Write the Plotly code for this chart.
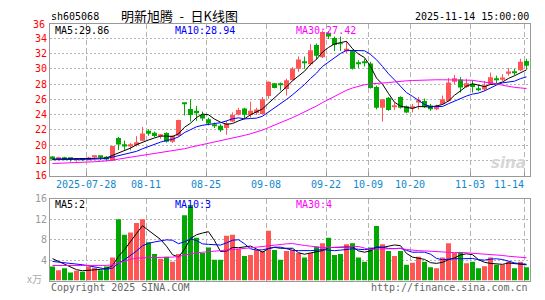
import plotly.graph_objects as go
import pandas as pd

# ---------------- data ----------------
dates = ("07-18 07-21 07-22 07-23 07-24 07-25 07-28 07-29 07-30 07-31 "
         "08-01 08-04 08-05 08-06 08-07 08-08 08-11 08-12 08-13 08-14 08-15 "
         "08-18 08-19 08-20 08-21 08-22 08-25 08-26 08-27 08-28 08-29 "
         "09-01 09-02 09-03 09-04 09-05 09-08 09-09 09-10 09-11 09-12 "
         "09-15 09-16 09-17 09-18 09-19 09-22 09-23 09-24 09-25 09-26 09-29 09-30 "
         "10-09 10-10 10-13 10-14 10-15 10-16 10-17 10-20 10-21 10-22 10-23 10-24 "
         "10-27 10-28 10-29 10-30 10-31 11-03 11-04 11-05 11-06 11-07 "
         "11-10 11-11 11-12 11-13 11-14").split()

open_ = [18.55, 18.20, 18.40, 18.22, 18.15, 18.20, 18.15, 18.45, 18.50, 18.50,
         18.00, 20.95, 20.15, 19.85, 20.00, 20.60, 21.90, 21.65, 21.20, 21.60,
         20.45, 21.25, 25.55, 24.75, 24.50, 23.95, 23.40, 22.68, 22.55, 22.26,
         23.10, 24.00, 24.80, 23.95, 24.22, 24.10, 26.45, 28.10, 27.90, 27.35,
         28.50, 30.00, 30.90, 30.60, 33.10, 31.50, 34.70, 34.00, 33.30, 32.30,
         32.40, 30.80, 30.90, 30.70, 27.60, 24.90, 26.20, 25.05, 26.30, 25.10,
         24.95, 25.60, 25.80, 25.20, 24.70, 25.40, 25.80, 28.30, 28.60, 27.60,
         28.00, 27.40, 27.30, 27.95, 28.60, 28.55, 29.35, 29.60, 29.80, 31.00]
high = [18.60, 18.50, 18.50, 18.30, 18.30, 18.30, 18.50, 18.65, 18.55, 18.60,
        19.95, 21.10, 20.60, 20.30, 21.20, 22.40, 22.10, 21.80, 21.45, 21.70,
        21.30, 23.35, 25.55, 26.00, 25.15, 24.40, 23.60, 22.97, 22.75, 23.18,
        24.30, 24.90, 24.90, 25.70, 24.90, 26.30, 28.35, 28.15, 28.20, 28.70,
        30.20, 31.60, 31.60, 33.20, 33.30, 35.00, 34.90, 34.20, 34.20, 33.60,
        32.50, 31.10, 31.30, 30.90, 27.80, 26.05, 26.30, 25.60, 26.40, 25.20,
        25.40, 26.30, 26.10, 25.40, 25.30, 26.50, 28.80, 29.20, 28.90, 28.70,
        28.50, 27.90, 28.40, 29.50, 29.10, 29.30, 30.10, 30.00, 31.30, 31.30]
low = [18.10, 18.10, 18.05, 17.85, 17.85, 17.95, 18.05, 18.15, 18.05, 17.90,
       17.95, 19.40, 19.40, 19.35, 19.85, 20.55, 21.25, 21.05, 20.85, 20.35,
       20.30, 21.10, 23.90, 23.10, 23.20, 23.20, 22.60, 22.26, 21.75, 21.38,
       23.00, 23.90, 23.50, 23.60, 23.95, 24.00, 26.10, 27.45, 27.15, 26.50,
       28.40, 29.60, 30.00, 30.40, 31.20, 31.40, 33.90, 32.30, 32.30, 32.00,
       29.90, 30.10, 30.30, 27.40, 24.70, 23.10, 24.50, 24.60, 24.80, 24.20,
       24.30, 24.70, 24.90, 24.50, 24.60, 25.30, 25.70, 28.00, 26.90, 27.50,
       26.90, 27.05, 27.10, 27.90, 28.10, 28.40, 29.10, 29.15, 29.70, 29.90]
close = [18.15, 18.35, 18.25, 18.18, 18.20, 18.15, 18.40, 18.52, 18.45, 18.15,
         19.90, 20.10, 19.85, 20.15, 20.40, 21.55, 21.50, 21.20, 21.33, 20.45,
         21.25, 23.30, 25.45, 23.95, 24.20, 23.50, 22.85, 22.60, 21.95, 22.84,
         23.95, 24.60, 24.00, 24.50, 24.68, 26.00, 28.30, 27.50, 27.85, 28.50,
         30.00, 31.20, 30.80, 32.40, 31.70, 34.80, 34.20, 33.10, 33.20, 32.60,
         30.00, 30.70, 30.80, 27.50, 24.90, 26.00, 24.60, 25.15, 24.90, 24.30,
         25.10, 25.90, 25.00, 24.70, 25.05, 26.00, 28.20, 28.75, 27.55, 28.10,
         27.60, 27.30, 27.80, 28.90, 28.50, 28.85, 29.65, 29.50, 30.90, 30.40]
volume = [2.77, 2.00, 2.40, 1.60, 1.90, 1.75, 2.77, 2.50, 2.00, 2.77,
          4.50, 12.0, 9.00, 9.40, 11.3, 12.0, 7.50, 5.20, 4.30, 4.65,
          3.70, 5.20, 12.8, 14.8, 8.40, 5.40, 6.50, 4.10, 4.10, 8.80,
          9.00, 6.20, 4.80, 5.00, 6.00, 5.80, 9.75, 6.00, 4.10, 5.80,
          6.00, 5.40, 4.50, 5.40, 6.70, 7.30, 8.40, 5.00, 5.20, 7.10,
          7.30, 4.50, 3.70, 6.50, 10.7, 7.10, 5.80, 4.80, 5.80, 3.10,
          3.50, 4.65, 3.70, 2.60, 2.40, 4.50, 7.30, 5.40, 5.60, 3.40,
          3.70, 2.40, 2.80, 4.50, 3.10, 3.10, 3.70, 2.40, 3.70, 2.60]

# moving-average values at the start of the chart (window reaches before the first day)
ma5_lead = [18.20, 18.20, 18.21, 18.22]
ma10_lead = [18.12, 18.12, 18.13, 18.13, 18.14, 18.15, 18.17, 18.20, 18.24]
ma30_lead = [17.62, 17.64, 17.66, 17.68, 17.72, 17.76, 17.80, 17.85, 17.90, 17.95,
             18.05, 18.20, 18.32, 18.44, 18.56, 18.68, 18.80, 18.92, 19.03, 19.13,
             19.24, 19.36, 19.55, 19.75, 19.92, 20.08, 20.23, 20.38, 20.54]
vma5_lead = [4.30, 3.75, 3.20, 2.65]
vma10_lead = [3.75, 3.65, 3.50, 3.35, 3.25, 3.10, 2.90, 2.70, 2.50]
vma30_lead = [2.95, 2.95, 2.95, 2.95, 2.95, 2.95, 2.95, 2.95, 2.95, 2.97,
              3.10, 3.50, 3.85, 4.15, 4.40, 4.50, 4.50, 4.50, 4.50, 4.55,
              4.60, 4.75, 5.00, 5.25, 5.45, 5.55, 5.65, 5.72, 5.78]

tick_labels = ["2025-07-28", "08-11", "08-25", "09-08", "09-22", "10-09", "10-20", "11-03", "11-14"]
tick_dates = ["07-28", "08-11", "08-25", "09-08", "09-22", "10-09", "10-20", "11-03", "11-14"]
price_ticks = [16, 18, 20, 22, 24, 26, 28, 30, 32, 34]
vol_ticks = [4, 8, 12, 16]

header_left = "sh605068"
title = "明新旭腾\u2002-\u2002日K线图"
stamp = "2025-11-14 15:00:00"
vol_legend = ["MA5:2", "MA10:3", "MA30:4"]

# ---------------- derived ----------------
n = len(dates)
idx = list(range(n))


def ma(vals, w, lead):
    r = pd.Series(vals).rolling(w).mean().tolist()
    return list(lead) + r[w - 1:]


ma5 = ma(close, 5, ma5_lead)
ma10 = ma(close, 10, ma10_lead)
ma30 = ma(close, 30, ma30_lead)
vma5 = ma(volume, 5, vma5_lead)
vma10 = ma(volume, 10, vma10_lead)
vma30 = ma(volume, 30, vma30_lead)

RED = "#ff5555"
GREEN = "#00a800"
up = [c >= o for o, c in zip(open_, close)]
cols = [RED if u else GREEN for u in up]

W, H = 545, 300
def px(x): return x / W
def py(y): return 1 - y / H

OFF = 0.4167  # slot left edge offset
MONO = "DejaVu Sans Mono"

fig = go.Figure()

# wicks
for color, flag in ((RED, True), (GREEN, False)):
    xs, ys = [], []
    for i in idx:
        if up[i] == flag:
            xs += [i, i, None]
            ys += [low[i], high[i], None]
    fig.add_trace(go.Scatter(x=xs, y=ys, mode="lines", line=dict(color=color, width=1),
                             hoverinfo="skip", xaxis="x", yaxis="y"))

# bodies
base = [min(o, c) for o, c in zip(open_, close)]
hgt = [max(abs(c - o), 0.13) for o, c in zip(open_, close)]
fig.add_trace(go.Bar(x=idx, y=hgt, base=base, width=0.8333, marker=dict(color=cols, line=dict(width=0)),
                     xaxis="x", yaxis="y"))

for vals, c in ((ma5, "#000000"), (ma10, "#0000ff"), (ma30, "#ff00ff")):
    fig.add_trace(go.Scatter(x=idx, y=vals, mode="lines", line=dict(color=c, width=1),
                             xaxis="x", yaxis="y"))

# volume
fig.add_trace(go.Bar(x=idx, y=volume, width=0.8333, marker=dict(color=cols, line=dict(width=0)),
                     xaxis="x2", yaxis="y2"))
for vals, c in ((vma5, "#000000"), (vma10, "#0000ff"), (vma30, "#ff00ff")):
    fig.add_trace(go.Scatter(x=idx, y=vals, mode="lines", line=dict(color=c, width=1),
                             xaxis="x2", yaxis="y2"))

tick_idx = [dates.index(d) for d in tick_dates]
tvals = [i - OFF for i in tick_idx]
GRID = "#b4b4b4"
FRAME = "#999999"

xcommon = dict(domain=[px(50), px(530)], range=[-OFF, n - OFF], tickvals=tvals,
               showgrid=True, gridcolor=GRID, griddash="5px,3px", gridwidth=1,
               showline=True, mirror=True, linecolor=FRAME, zeroline=False,
               showticklabels=False, fixedrange=True)

fig.update_layout(
    width=W, height=H, autosize=False,
    margin=dict(l=0, r=0, t=0, b=0),
    paper_bgcolor="white", plot_bgcolor="white",
    showlegend=False, barmode="overlay",
    xaxis=dict(**xcommon, anchor="y", ticks="inside", ticklen=4, tickcolor=FRAME),
    xaxis2=dict(**xcommon, anchor="y2", ticks=""),
    yaxis=dict(domain=[py(177), py(19)], range=[16, 16 + 158 / 7.975], tickvals=price_ticks,
               ticktext=[str(v) for v in price_ticks],
               tickfont=dict(family=MONO, size=10, color="#ff0000"),
               showgrid=True, gridcolor=GRID, griddash="2px,2px", showline=True, mirror=True,
               linecolor=FRAME, zeroline=False, ticks="", anchor="x"),
    yaxis2=dict(domain=[py(286), py(201)], range=[0, 16], tickvals=vol_ticks,
                ticktext=[str(v) for v in vol_ticks],
                tickfont=dict(family=MONO, size=10, color="#999999"),
                showgrid=True, gridcolor=GRID, griddash="2px,2px", showline=True, mirror=True,
                linecolor=FRAME, zeroline=False, ticks="", anchor="x2"),
)

ann = []
def text(x, y, s, color="#000000", size=10, anchor="left", family=MONO, **kw):
    ann.append(dict(x=px(x), y=py(y), xref="paper", yref="paper", text=s, showarrow=False,
                    xanchor=anchor, yanchor="middle", font=dict(family=family, size=size, color=color),
                    borderpad=0, **kw))

text(50, 11, header_left)
text(120, 10, title, size=13, family="Noto Sans CJK SC")
text(530, 11, stamp, anchor="right")
text(46, 19, "36", color="#ff0000", anchor="right")

text(54, 25, "MA5:%.2f" % ma5[-1])
text(174, 25, "MA10:%.2f" % ma10[-1], color="#0000ff")
text(295, 25, "MA30:%.2f" % ma30[-1], color="#ff00ff")

text(54, 207, vol_legend[0])
text(174, 207, vol_legend[1], color="#0000ff")
text(295, 207, vol_legend[2], color="#ff00ff")

for lab, i in zip(tick_labels, tick_idx):
    gx = 50 + 6 * i
    if i == tick_idx[-1]:
        text(gx + 0.5, 186, lab, color="#1188cc", anchor="right")
    else:
        text(gx, 186, lab, color="#1188cc", anchor="center")

text(43, 284, "x万", color="#aaaaaa", anchor="right", family="Noto Sans CJK SC")
text(50, 293, "Copyright 2025 SINA.COM", color="#666666")
text(529, 293, "http://finance.sina.com.cn", color="#666666", anchor="right")
text(527, 164, "<b><i>sina</i></b>", color="#d6d6d6", size=15, anchor="right", family="DejaVu Sans")

fig.update_layout(annotations=ann)
fig.write_html("out.html")
